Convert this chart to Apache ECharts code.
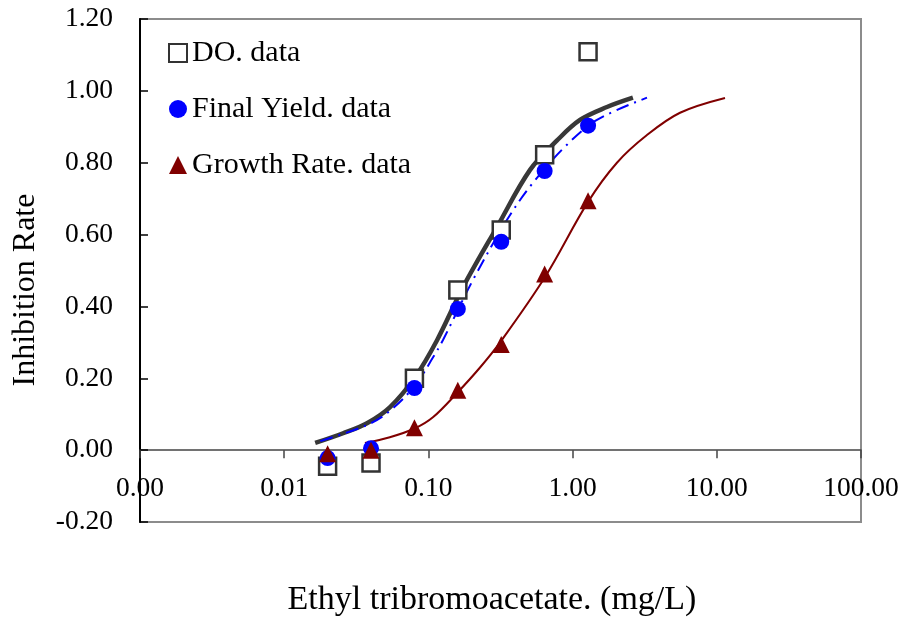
<!DOCTYPE html>
<html>
<head>
<meta charset="utf-8">
<script src="https://cdn.jsdelivr.net/npm/echarts@6/dist/echarts.min.js"></script>
<style>
html,body{margin:0;padding:0;background:#fff;}
#chart{width:902px;height:624px;}
</style>
</head>
<body>
<div id="chart"></div>
<script>
// Measured concentrations (mg/L)
var concentrations = [0.02, 0.04, 0.08, 0.16, 0.32, 0.64, 1.28];
// Observed inhibition rates
var doData = [-0.045, -0.036, 0.20, 0.446, 0.613, 0.822, 1.109];
var finalYieldData = [-0.022, 0.005, 0.173, 0.393, 0.58, 0.777, 0.903];
var growthRateData = [-0.01, 0.0, 0.062, 0.167, 0.294, 0.49, 0.694];

// Fitted curves
var doCurveX = [0.0164, 0.0256, 0.0375, 0.0542, 0.0808, 0.1148, 0.174, 0.299, 0.507, 0.78, 1.125, 1.73, 2.62];
var doCurveY = [0.02, 0.047, 0.075, 0.12, 0.203, 0.306, 0.454, 0.621, 0.78, 0.862, 0.919, 0.955, 0.981];
var fyCurveX = [0.0178, 0.0375, 0.054, 0.081, 0.108, 0.126, 0.204, 0.351, 0.531, 0.914, 1.476, 3.28];
var fyCurveY = [0.025, 0.07, 0.109, 0.181, 0.259, 0.306, 0.474, 0.641, 0.744, 0.85, 0.919, 0.981];
var grCurveX = [0.0363, 0.054, 0.081, 0.108, 0.158, 0.228, 0.314, 0.644, 1.28, 2.03, 3.28, 5.56, 11.4];
var grCurveY = [0.02, 0.036, 0.061, 0.092, 0.159, 0.23, 0.30, 0.482, 0.691, 0.80, 0.877, 0.939, 0.98];

// Axis settings
var xMin = 0.001, xMax = 100;
var yMin = -0.2, yMax = 1.2, yStep = 0.2;
var seriesNames = ['DO. data', 'Final Yield. data', 'Growth Rate. data'];
var xTitle = 'Ethyl tribromoacetate. (mg/L)';
var yTitle = 'Inhibition Rate';

function zip(xs, ys) { return xs.map(function (x, i) { return [x, ys[i]]; }); }

var FONT = "'Liberation Serif', 'Times New Roman', serif";
var gridTop = 19, gridBottom = 102, H = 624;
var plotH = H - gridTop - gridBottom;
// shift the x axis up so it sits on y = 0
var xAxisOffset = -plotH * (0 - yMin) / (yMax - yMin);

var chart = echarts.init(document.getElementById('chart'), null, {renderer: 'canvas'});
chart.setOption({
  animation: false,
  backgroundColor: '#fff',
  grid: {left: 140, right: 41, top: gridTop, bottom: gridBottom, containLabel: false, outerBoundsMode: 'none',
    show: true, borderColor: '#8c8c8c', borderWidth: 2, backgroundColor: '#fff'},
  legend: {
    data: seriesNames,
    orient: 'vertical',
    left: 168, top: 38, padding: 0,
    itemWidth: 18, itemHeight: 18,
    itemGap: 26,
    textStyle: {fontFamily: FONT, fontSize: 30, color: '#000', lineHeight: 30}
  },
  graphic: [
    {type: 'text', x: 26, y: 290, rotation: Math.PI / 2,
      style: {text: yTitle, font: "32px 'Liberation Serif'", fill: '#000', align: 'center', verticalAlign: 'middle'}},
    {type: 'text', x: 492, y: 600,
      style: {text: xTitle, font: "34px 'Liberation Serif'", fill: '#000', align: 'center', verticalAlign: 'middle'}}
  ],
  xAxis: {
    type: 'log', logBase: 10, min: xMin, max: xMax,
    offset: xAxisOffset,
    axisLine: {onZero: false, lineStyle: {color: '#444', width: 1.5}},
    axisTick: {show: true, inside: false, length: 8, lineStyle: {color: '#444', width: 1.5}},
    axisLabel: {fontFamily: FONT, fontSize: 27.5, color: '#000', margin: 25, showMinLabel: true, showMaxLabel: true,
      formatter: function (v) { return Number(v).toFixed(2); }},
    splitLine: {show: false}, minorTick: {show: false}
  },
  yAxis: {
    type: 'value', min: yMin, max: yMax, interval: yStep,
    axisLine: {show: true, onZero: false, lineStyle: {color: '#000', width: 2}},
    axisTick: {show: true, inside: true, length: 8, lineStyle: {color: '#000', width: 1.5}},
    axisLabel: {fontFamily: FONT, fontSize: 27.5, color: '#000', margin: 27,
      formatter: function (v) { return v.toFixed(2); }},
    splitLine: {show: false}
  },
  series: [
    {type: 'line', name: 'DO fit', data: zip(doCurveX, doCurveY), smooth: 0.35, showSymbol: false, z: 2,
      lineStyle: {color: '#383838', width: 4.5}},
    {type: 'line', name: 'Final Yield fit', data: zip(fyCurveX, fyCurveY), smooth: 0.35, showSymbol: false, z: 3,
      lineStyle: {color: '#0000ff', width: 2, type: [13, 6, 2, 6]}},
    {type: 'line', name: 'Growth Rate fit', data: zip(grCurveX, grCurveY), smooth: 0.35, showSymbol: false, z: 2,
      lineStyle: {color: '#800000', width: 2}},
    {type: 'scatter', name: seriesNames[0], data: zip(concentrations, doData), symbol: 'rect', symbolSize: 17, z: 4,
      itemStyle: {color: '#fff', borderColor: '#333', borderWidth: 2.5, opacity: 1}},
    {type: 'scatter', name: seriesNames[1], data: zip(concentrations, finalYieldData), symbol: 'circle', symbolSize: 16, z: 5,
      itemStyle: {color: '#0000ff', opacity: 1}},
    {type: 'scatter', name: seriesNames[2], data: zip(concentrations, growthRateData), symbol: 'triangle', symbolSize: 17, z: 6,
      itemStyle: {color: '#800000', opacity: 1}}
  ]
});
</script>
</body>
</html>
